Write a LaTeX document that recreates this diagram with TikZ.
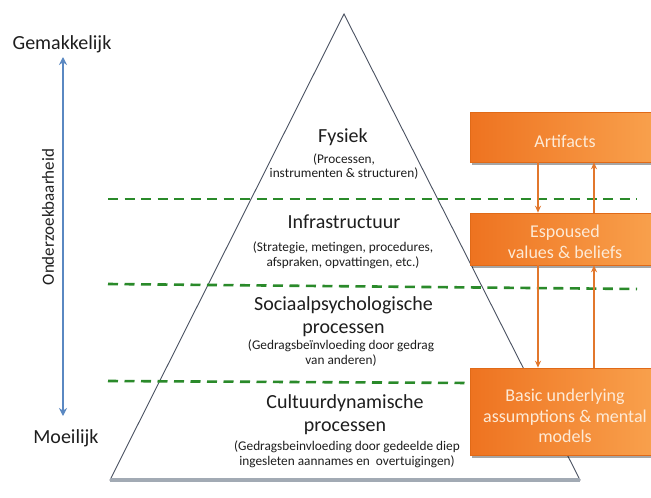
\documentclass[tikz,border=0pt]{standalone}
\usepackage{fontspec}
\setmainfont{Carlito}
\usetikzlibrary{arrows.meta,shadows,calc}
\definecolor{txt}{HTML}{1E1E1E}
\definecolor{dgreen}{HTML}{2A8A2A}
\definecolor{orL}{HTML}{EE7320}
\definecolor{orR}{HTML}{F9A24E}
\definecolor{orEdge}{HTML}{E06A18}
\definecolor{orArrow}{HTML}{E2772C}
\definecolor{boxtxt}{HTML}{FDEAD6}
\definecolor{blueA}{HTML}{5A88C2}
\definecolor{triedge}{HTML}{4A5262}
\definecolor{basegray}{HTML}{A2AAB4}
\tikzset{
  head/.style={text=txt, font=\fontsize{20}{23}\selectfont, align=center, inner sep=0pt},
  sub/.style={text=txt, font=\fontsize{13.3}{14.5}\selectfont, align=center, inner sep=0pt},
  side/.style={text=txt, font=\fontsize{20}{23}\selectfont, inner sep=0pt},
  gline/.style={dgreen, line width=2.6pt, dash pattern=on 10pt off 6.5pt},
  obox/.style={draw=orEdge, line width=0.6pt, left color=orL, right color=orR,
    minimum width=190pt, inner sep=0pt,
    drop shadow={shadow xshift=2pt, shadow yshift=-3pt, fill=black, opacity=0.35}},
  olabel/.style={text=boxtxt, font=\fontsize{18}{20.5}\selectfont, align=center, inner sep=0pt},
  oarrow/.style={orArrow, line width=1.5pt, -{Stealth[length=7pt,width=6pt]}},
  barrow/.style={blueA, line width=2pt, {Stealth[length=8pt,width=8pt]}-{Stealth[length=8pt,width=8pt]}}
}
\begin{document}
\begin{tikzpicture}[x=1pt,y=-1pt]
\useasboundingbox (0,0) rectangle (651,498);
\fill[white] (0,0) rectangle (651,498);

% pyramid
\coordinate (apex) at (344,14);
\coordinate (bl) at (110,480);
\coordinate (br) at (580,480);
\draw[triedge, line width=0.9pt, fill=white] (apex) -- (br) -- (bl) -- cycle;
\draw[basegray, line width=4pt] (bl) -- (br);

% dashed level lines
\coordinate (g1a) at (108,199); \coordinate (g1b) at (637,199);
\coordinate (g2a) at (108,284); \coordinate (g2b) at (637,289);
\coordinate (g3a) at (108,381); \coordinate (g3b) at (470,383);
\draw[gline] (g1a) -- (g1b);
\draw[gline] (g2a) -- (g2b);
\draw[gline] (g3a) -- (g3b);

% pyramid texts
\node[head] (fys) at (343,137) {Fysiek};
\node[sub] (fyssub) at (344,166.5) {(Processen,\\instrumenten \& structuren)};
\node[head] (inf) at (344,222) {Infrastructuur};
\node[sub] (infsub) at (343,255.5) {(Strategie, metingen, procedures,\\afspraken, opvattingen, etc.)};
\node[head] (soc) at (343.5,316.5) {Sociaalpsychologische\\processen};
\node[sub] (socsub) at (341,353) {(Gedragsbeïnvloeding door gedrag\\van anderen)};
\node[head] (cul) at (345,415) {Cultuurdynamische\\processen};
\node[sub] (culsub) at (347,454.5) {(Gedragsbeinvloeding door gedeelde diep\\ingesleten aannames en\ \ overtuigingen)};

% orange boxes
\node[obox, minimum height=50pt] (art) at (565,137) {};
\node[olabel] (artt) at (565,141) {Artifacts};
\node[obox, minimum height=52pt] (esp) at (565,239) {};
\node[olabel] (espt) at (565,242) {Espoused\\values \& beliefs};
\node[obox, minimum height=87pt] (bas) at (565,411.5) {};
\node[olabel] (bast) at (565,416) {Basic underlying\\assumptions \& mental\\models};

% orange arrows
\coordinate (dx) at (538,0);
\coordinate (ux) at (594,0);
\draw[oarrow] (art.south -| dx) -- (esp.north -| dx);
\draw[oarrow] (esp.north -| ux) -- (art.south -| ux);
\draw[oarrow] (esp.south -| dx) -- (bas.north -| dx);
\draw[oarrow] (bas.north -| ux) -- (esp.south -| ux);

% left scale
\node[side] (gem) at (62,44) {Gemakkelijk};
\node[side] (moe) at (66,438) {Moeilijk};
\coordinate (atop) at (63,57);
\coordinate (abot) at (63,416);
\draw[barrow] (atop) -- (abot);
\node[side, font=\fontsize{17}{20}\selectfont, rotate=90] (ond) at (48,217) {Onderzoekbaarheid};
\end{tikzpicture}
\end{document}
